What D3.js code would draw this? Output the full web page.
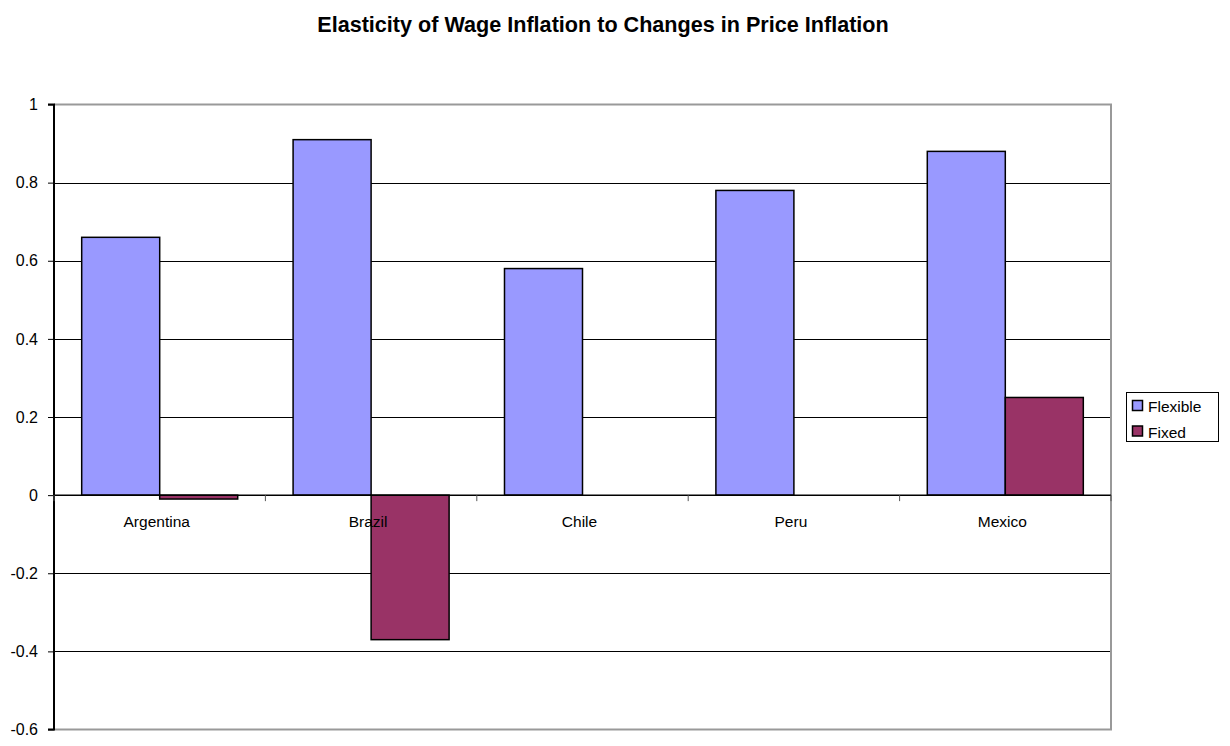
<!DOCTYPE html>
<html><head><meta charset="utf-8">
<script src="https://cdn.jsdelivr.net/npm/d3@7"></script>
<style>body{margin:0;background:#fff}svg{display:block;font-family:"Liberation Sans",Arial,sans-serif}</style>
</head><body>
<script>
const categories = ["Argentina","Brazil","Chile","Peru","Mexico"];
const flexible = [0.66, 0.91, 0.58, 0.78, 0.88];
const fixed = [-0.01, -0.37, 0, 0, 0.25];
const seriesNames = ["Flexible","Fixed"];
const seriesColors = ["#9999ff","#993366"];
const yTicks = [1,0.8,0.6,0.4,0.2,0,-0.2,-0.4,-0.6];

const W=1230,H=746;
const L=54,R=1111,T=104.5,B=729.5;
const svg=d3.select("body").append("svg").attr("width",W).attr("height",H);

svg.append("text").attr("x",603).attr("y",32).attr("text-anchor","middle")
  .attr("font-size",21.6).attr("font-weight","bold").text("Elasticity of Wage Inflation to Changes in Price Inflation");

const y=d3.scaleLinear().domain([-0.6,1]).range([B,T]);
const x0=d3.scaleBand().domain(categories).range([L,R]).paddingInner(0).paddingOuter(0);
const x1=d3.scaleBand().domain(seriesNames).range([0,x0.bandwidth()]).paddingInner(0).paddingOuter(0.355);

// gridlines
svg.append("g").selectAll("line").data(yTicks.filter(d=>d!==0&&d!==1&&d!==-0.6)).join("line")
  .attr("x1",L).attr("x2",R).attr("y1",d=>Math.round(y(d))+0.5).attr("y2",d=>Math.round(y(d))+0.5)
  .attr("stroke","#000").attr("stroke-width",1);
// outer grey border top/right/bottom
svg.append("path").attr("d",`M${L},${T}H${R}V${B}H${L}`).attr("fill","none").attr("stroke","#999").attr("stroke-width",2);

// bars
const data=categories.map((c,i)=>({c,vals:[flexible[i],fixed[i]]}));
const g=svg.append("g");
data.forEach(d=>{
  d.vals.forEach((v,j)=>{
    if(v===0) return;
    const xx=x0(d.c)+x1(seriesNames[j]);
    g.append("rect").attr("x",xx).attr("width",x1.bandwidth())
      .attr("y",y(Math.max(0,v))).attr("height",Math.abs(y(v)-y(0)))
      .attr("fill",seriesColors[j]).attr("stroke","#000").attr("stroke-width",1.5);
  });
});

// y axis
const ya=d3.axisLeft(y).tickValues(yTicks).tickSize(6).tickFormat(d=>String(+d.toFixed(1)));
const yg=svg.append("g").attr("transform",`translate(${L},0)`).call(ya);
yg.select(".domain").attr("stroke","#000").attr("stroke-width",2).attr("d",`M-6,${y(1)}H0V${y(-0.6)}H-6`);
yg.selectAll(".tick line").attr("stroke","#000");
yg.selectAll(".tick text").attr("font-size",16).attr("fill","#000").attr("x",-16).attr("font-family","Liberation Sans, Arial, sans-serif");

// x axis at zero
const xa=d3.axisBottom(x0).tickSize(0).tickFormat(d=>d);
const xg=svg.append("g").attr("transform",`translate(0,${y(0)})`).call(xa);
xg.select(".domain").attr("stroke","#000").attr("stroke-width",1.5).attr("d",`M${L},0H${R}`);
xg.selectAll(".tick text").attr("font-size",15.5).attr("fill","#000").attr("y",0).attr("dy",0)
  .attr("transform","translate(-3,32)").attr("font-family","Liberation Sans, Arial, sans-serif");
// category boundary ticks
svg.append("g").selectAll("line").data(d3.range(categories.length+1)).join("line")
  .attr("x1",i=>L+i*x0.bandwidth()).attr("x2",i=>L+i*x0.bandwidth())
  .attr("y1",y(0)).attr("y2",y(0)+6).attr("stroke","#555").attr("stroke-width",1);

// legend
const lg=svg.append("g").attr("transform","translate(1126,392)");
lg.append("rect").attr("x",0.5).attr("y",0.5).attr("width",92).attr("height",49).attr("fill","#fff").attr("stroke","#000").attr("stroke-width",1);
seriesNames.forEach((s,i)=>{
  lg.append("rect").attr("x",6.5).attr("y",8.5+i*25.5).attr("width",10).attr("height",10)
    .attr("fill",seriesColors[i]).attr("stroke","#000").attr("stroke-width",1.5);
  lg.append("text").attr("x",22).attr("y",20+i*25.5).attr("font-size",15.5).text(s);
});
</script>
</body></html>
